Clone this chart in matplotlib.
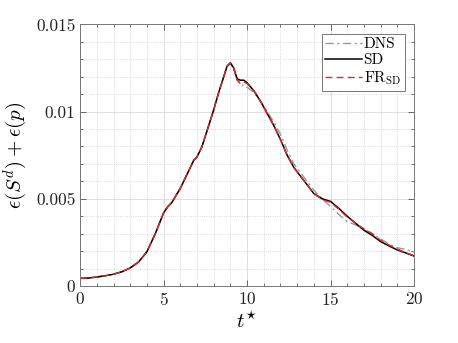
import matplotlib
matplotlib.use("Agg")
import matplotlib.pyplot as plt
from matplotlib.ticker import MultipleLocator, FixedLocator, FixedFormatter

plt.rcParams['font.family'] = 'cmr10'
plt.rcParams['mathtext.fontset'] = 'cm'
plt.rcParams['axes.formatter.use_mathtext'] = True

t_sd = [0, 0.5, 1, 1.5, 2, 2.5, 3, 3.5, 4, 4.5, 4.75, 5, 5.25, 5.5, 6, 6.5, 6.8, 7, 7.3, 7.6, 8, 8.3,
        8.6, 8.8, 9.0, 9.2, 9.4, 9.6, 9.8, 10, 10.4, 10.8, 11.2, 11.6, 12, 12.4, 12.8, 13.2, 13.6,
        14, 14.5, 15, 15.5, 16, 16.5, 17, 17.5, 18, 18.5, 19, 19.5, 20]
sd = [0.00044, 0.00046, 0.00052, 0.00059, 0.00068, 0.00082, 0.00104, 0.00138, 0.00197, 0.0030,
      0.0036, 0.0042, 0.00455, 0.0048, 0.0056, 0.0066, 0.0072, 0.0074, 0.0080, 0.0089, 0.0101,
      0.0111, 0.0120, 0.0126, 0.0128, 0.0125, 0.01188, 0.0118, 0.0118, 0.01165, 0.0112, 0.0106,
      0.0099, 0.0092, 0.0084, 0.0075, 0.0068, 0.0063, 0.0058, 0.0053, 0.0050, 0.00485, 0.00445,
      0.00400, 0.0036, 0.0032, 0.0029, 0.00255, 0.0023, 0.00207, 0.0019, 0.00172]
fr = [0.00044, 0.00046, 0.00052, 0.00059, 0.00068, 0.00082, 0.00104, 0.00138, 0.00197, 0.0030,
      0.0036, 0.0042, 0.00455, 0.0048, 0.0056, 0.0066, 0.0072, 0.0074, 0.0080, 0.0089, 0.0101,
      0.0111, 0.0120, 0.0126, 0.0128, 0.0125, 0.0118, 0.0116, 0.0117, 0.0116, 0.0112, 0.0106,
      0.0099, 0.0092, 0.0084, 0.0075, 0.0068, 0.0063, 0.0058, 0.0053, 0.00495, 0.0048, 0.0044,
      0.00395, 0.0036, 0.00328, 0.0030, 0.00262, 0.00235, 0.00212, 0.00192, 0.00174]
dns = [0.00044, 0.00046, 0.00052, 0.00059, 0.00068, 0.00082, 0.00104, 0.00138, 0.00197, 0.0030,
       0.0036, 0.0042, 0.00455, 0.0048, 0.0056, 0.0066, 0.0072, 0.0074, 0.0080, 0.0089, 0.0101,
       0.0111, 0.0120, 0.0126, 0.01275, 0.0124, 0.0119, 0.0116, 0.01145, 0.0114, 0.0111, 0.0106,
       0.0100, 0.0094, 0.0087, 0.0078, 0.0070, 0.0065, 0.0060, 0.0055, 0.0050, 0.00456, 0.0041,
       0.0037, 0.0035, 0.00328, 0.0030, 0.0027, 0.0024, 0.0022, 0.0021, 0.00195]

x_ticks = [0, 5, 10, 15, 20]
y_ticks = [0, 0.005, 0.01, 0.015]
y_ticklabels = ['0', '0.005', '0.01', '0.015']

fig = plt.figure(figsize=(4.58, 3.43), dpi=100)
ax = fig.add_axes([0.175, 0.166, 0.729, 0.763])

ax.plot(t_sd, dns, color='#999999', ls=(0, (6, 2.5, 1.5, 2.5)), lw=1.0, label='DNS')
ax.plot(t_sd, sd, color='black', ls='-', lw=1.1, label='SD')
ax.plot(t_sd, fr, color='#e8251f', ls=(0, (5, 3)), lw=1.0, label=r'FR$_{\rm SD}$')

ax.set_xlim(0, 20)
ax.set_ylim(0, 0.015)
ax.xaxis.set_major_locator(FixedLocator(x_ticks))
ax.yaxis.set_major_locator(FixedLocator(y_ticks))
ax.yaxis.set_major_formatter(FixedFormatter(y_ticklabels))
ax.xaxis.set_minor_locator(MultipleLocator(1))
ax.yaxis.set_minor_locator(MultipleLocator(0.001))

ax.grid(which='major', color='#d9d9d9', lw=0.6, ls='-')
ax.grid(which='minor', color='#cfcfcf', lw=0.6, ls=':')
ax.set_axisbelow(True)

ax.tick_params(which='both', direction='in', top=True, right=True, colors='#555555',
               labelcolor='#222222', labelsize=12.5, width=0.6)
ax.tick_params(which='major', length=4)
ax.tick_params(which='minor', length=2)
for s in ax.spines.values():
    s.set_color('#777777')
    s.set_linewidth(0.7)

ax.set_xlabel(r'$t^{\star}$', fontsize=15, labelpad=2)
ax.set_ylabel(r'$\epsilon(S^d)+\epsilon(p)$', fontsize=15, labelpad=4)

leg = ax.legend(loc='upper right', fontsize=11, handlelength=2.4, handletextpad=0.1,
                borderpad=0.25, labelspacing=0.15, fancybox=False, framealpha=1,
                edgecolor='#777777', borderaxespad=0.6)
leg.get_frame().set_linewidth(0.7)

fig.savefig('out.png', dpi=100)
